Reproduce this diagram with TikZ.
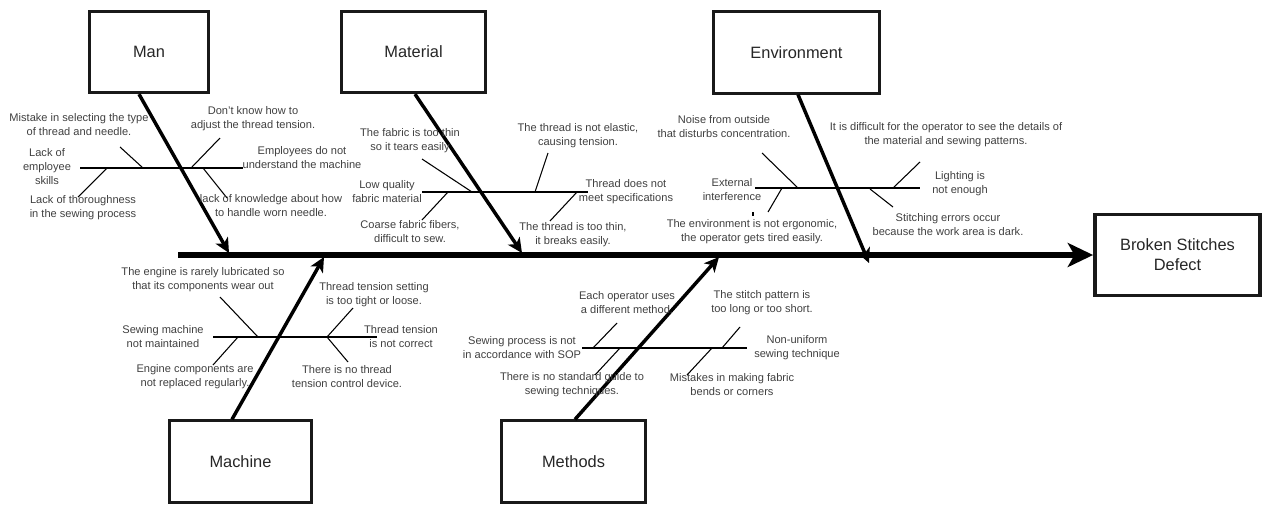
\documentclass[tikz,border=0pt]{standalone}
\usepackage{fontspec}
\setmainfont{Liberation Sans}
\usetikzlibrary{arrows.meta,calc}
\begin{document}
\begin{tikzpicture}[x=0.75pt,y=-0.75pt,
  catbox/.style={draw=black!90, line width=2.2pt, inner sep=0pt, minimum height=61pt,
    font=\fontsize{12.3}{15}\selectfont, text=black!85, align=center},
  lbl/.style={inner sep=0pt, align=center, text=black!75, font=\fontsize{8.3}{10.5}\selectfont},
  spine/.style={line width=3.8pt, -{Stealth[length=19pt,width=18pt,inset=5pt]}},
  bone/.style={line width=2.6pt, -{Stealth[length=11pt,width=10.5pt,inset=3pt]}},
  sub/.style={line width=1.6pt},
  twig/.style={line width=0.8pt}]
\useasboundingbox (0,0) rectangle (1263,504);
% category boxes
\node[catbox, minimum width=89pt] (man) at (149,52) {Man};
\node[catbox, minimum width=108pt] (material) at (413.5,52) {Material};
\node[catbox, minimum width=124pt] (env) at (796.5,52.5) {Environment};
\node[catbox, minimum width=106pt] (machine) at (240.5,461.5) {Machine};
\node[catbox, minimum width=108pt] (methods) at (573.5,461.5) {Methods};
\node[catbox, minimum width=124pt, line width=2.6pt] (effect) at (1177.5,255) {Broken Stitches\\Defect};
% spine
\coordinate (spineStart) at (178,255);
\draw[spine] (spineStart) -- (effect.west);
% bones
\coordinate (manTip) at (229,253);
\coordinate (matTip) at (522,253);
\coordinate (envTip) at (869,263);
\coordinate (macTip) at (324,257);
\coordinate (metTip) at (719,257);
\draw[bone] ($(man.south)+(-10,0)$) -- (manTip);
\draw[bone] ($(material.south)+(1.5,0)$) -- (matTip);
\draw[bone] ($(env.south)+(1.5,0)$) -- (envTip);
\draw[bone] ($(machine.north)+(-8.5,0)$) -- (macTip);
\draw[bone] ($(methods.north)+(1.5,0)$) -- (metTip);

% ---------- Man ----------
\draw[sub] (80,168) -- (243,168);
\draw[twig] (120,147) -- (143,168);
\draw[twig] (220,138) -- (192,167);
\draw[twig] (107,168) -- (78,197);
\draw[twig] (203,168) -- (227,198);
\node[lbl] (m1) at (79,125) {Mistake in selecting the type\\of thread and needle.};
\node[lbl] (m2) at (253,119) {Don't know how to\\adjust the thread tension.};
\node[lbl] (m3) at (47,167) {Lack of\\employee\\skills};
\node[lbl] (m4) at (302,158) {Employees do not\\understand the machine};
\node[lbl] (m5) at (83,208) {Lack of thoroughness\\in the sewing process};
\node[lbl] (m6) at (271,206) {lack of knowledge about how\\to handle worn needle.};

% ---------- Material ----------
\draw[sub] (422,192) -- (588,192);
\draw[twig] (422,159) -- (472,192);
\draw[twig] (548,153) -- (535,192);
\draw[twig] (448,192) -- (422,220);
\draw[twig] (577,192) -- (550,221);
\node[lbl] (t1) at (410,141) {The fabric is too thin\\so it tears easily};
\node[lbl] (t2) at (578,136) {The thread is not elastic,\\causing tension.};
\node[lbl] (t3) at (387,192) {Low quality\\fabric material};
\node[lbl] (t4) at (626,192) {Thread does not\\meet specifications};
\node[lbl] (t5) at (410,232) {Coarse fabric fibers,\\difficult to sew.};
\node[lbl] (t6) at (573,235) {The thread is too thin,\\it breaks easily.};

% ---------- Environment ----------
\draw[sub] (755,188) -- (920,188);
\draw[twig] (762,153) -- (798,188);
\draw[twig] (920,162) -- (893,188);
\draw[twig] (782,188) -- (768,212);
\draw[twig] (870,189) -- (893,207);
\draw[twig] (753,212) -- (753,216);
\node[lbl] (e1) at (724,127) {Noise from outside\\that disturbs concentration.};
\node[lbl] (e2) at (946,135) {It is difficult for the operator to see the details of\\the material and sewing patterns.};
\node[lbl] (e3) at (732,190) {External\\interference};
\node[lbl] (e4) at (960,184) {Lighting is\\not enough};
\node[lbl] (e5) at (752,232) {The environment is not ergonomic,\\the operator gets tired easily.};
\node[lbl] (e6) at (948,225) {Stitching errors occur\\because the work area is dark.};

% ---------- Machine ----------
\draw[sub] (213,337) -- (377,337);
\draw[twig] (220,297) -- (258,337);
\draw[twig] (353,308) -- (327,337);
\draw[twig] (238,337) -- (213,365);
\draw[twig] (327,337) -- (348,362);
\node[lbl] (c1) at (203,280) {The engine is rarely lubricated so\\that its components wear out};
\node[lbl] (c2) at (374,295) {Thread tension setting\\is too tight or loose.};
\node[lbl] (c3) at (163,337) {Sewing machine\\not maintained};
\node[lbl] (c4) at (401,337) {Thread tension\\is not correct};
\node[lbl] (c5) at (195,377) {Engine components are\\not replaced regularly.};
\node[lbl] (c6) at (347,377) {There is no thread\\tension control device.};

% ---------- Methods ----------
\draw[sub] (582,348) -- (747,348);
\draw[twig] (617,323) -- (593,348);
\draw[twig] (740,327) -- (722,348);
\draw[twig] (620,348) -- (595,375);
\draw[twig] (712,348) -- (687,375);
\node[lbl] (d1) at (627,303) {Each operator uses\\a different method.};
\node[lbl] (d2) at (762,303) {The stitch pattern is\\too long or too short.};
\node[lbl] (d3) at (522,348) {Sewing process is not\\in accordance with SOP};
\node[lbl] (d4) at (797,348) {Non-uniform\\sewing technique};
\node[lbl] (d5) at (572,385) {There is no standard guide to\\sewing techniques.};
\node[lbl] (d6) at (732,385) {Mistakes in making fabric\\bends or corners};
\end{tikzpicture}
\end{document}
